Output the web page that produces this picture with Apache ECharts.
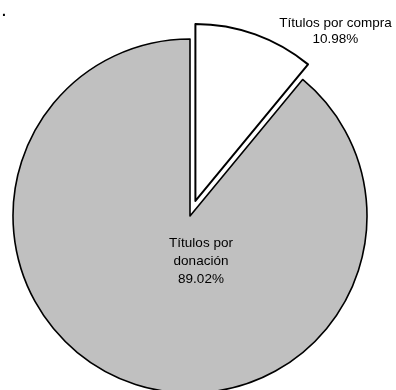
<!DOCTYPE html>
<html>
<head>
<meta charset="utf-8">
<script src="https://cdn.jsdelivr.net/npm/echarts@6/dist/echarts.min.js"></script>
<style>html,body{margin:0;padding:0;background:#fff}#c{width:396px;height:390px}</style>
</head>
<body>
<div id="c"></div>
<script>
const categories = ['Títulos por compra', 'Títulos por donación'];
const values = [10.98, 89.02];
const labelTexts = ['Títulos por compra\n10.98%', 'Títulos por\ndonación\n89.02%'];

const colors = ['#ffffff', '#c0c0c0'];
// pie center and the exploded (pulled-out) slice's center
const centers = [[195.4, 200.9], [190, 216]];
const labelOffsets = [[140, -170], [11, 45]];
const borderWidths = [2, 1.6];

function seriesFor(k) {
  return {
    type: 'pie',
    center: centers[k],
    radius: [0, 177],
    startAngle: 90,
    clockwise: true,
    silent: true,
    avoidLabelOverlap: false,
    labelLine: {show: false},
    emphasis: {disabled: true},
    z: k === 0 ? 3 : 2,
    data: categories.map((c, i) => ({
      name: c,
      value: values[i],
      itemStyle: i === k
        ? {color: colors[i], borderColor: '#000', borderWidth: borderWidths[i]}
        : {color: 'rgba(0,0,0,0)', borderWidth: 0},
      label: i === k ? {
        show: true,
        position: 'center',
        formatter: labelTexts[i],
        offset: labelOffsets[i],
        color: '#000',
        fontSize: 13.5,
        lineHeight: i === 0 ? 16 : 18,
        fontFamily: 'Liberation Sans',
        align: 'center'
      } : {show: false}
    }))
  };
}

const chart = echarts.init(document.getElementById('c'), null, {renderer: 'canvas'});
chart.setOption({
  animation: false,
  backgroundColor: '#ffffff',
  title: {
    text: '.',
    left: -3, top: 0,
    textStyle: {fontSize: 14, fontWeight: 'bold', color: '#000', fontFamily: 'Liberation Sans'}
  },
  series: [seriesFor(1), seriesFor(0)]
});
</script>
</body>
</html>
